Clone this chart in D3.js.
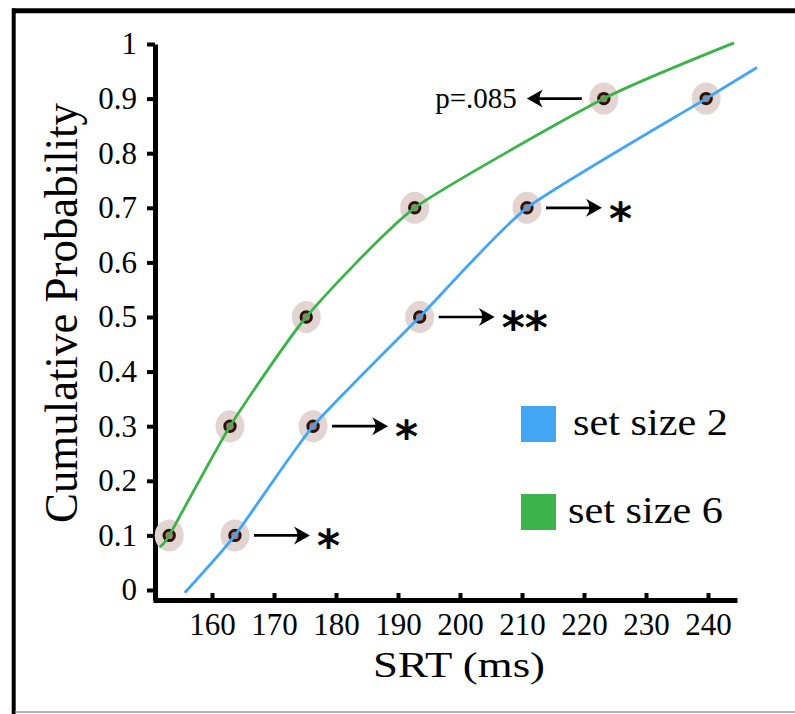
<!DOCTYPE html>
<html>
<head>
<meta charset="utf-8">
<script src="https://cdn.jsdelivr.net/npm/d3@7"></script>
<style>
  body { margin: 0; background: #fff; }
  text { font-family: "Liberation Serif", serif; fill: #000; }
</style>
</head>
<body>
<svg id="canvas" width="795" height="714"></svg>
<script>
// quantiles of the SRT distribution
let probs = [0.1, 0.3, 0.5, 0.7, 0.9];
let srtSize2 = [163.7, 176.3, 193.5, 210.8, 239.7];
let srtSize6 = [153.1, 162.9, 175.2, 192.7, 223.2];
// where each drawn curve starts and stops, [srt, prob]
let curveEnds2 = [[155.6, -0.005], [247.9, 0.957]];
let curveEnds6 = [[151.5, 0.079], [244.2, 1.002]];

let xTicks = [160, 170, 180, 190, 200, 210, 220, 230, 240];
let yTicks = [0, 0.1, 0.2, 0.3, 0.4, 0.5, 0.6, 0.7, 0.8, 0.9, 1];
let yTickLabels = ['0', '0.1', '0.2', '0.3', '0.4', '0.5', '0.6', '0.7', '0.8', '0.9', '1'];

let starLabels = ['*', '*', '**', '*', ''];
let pLabel = 'p=.085';
let seriesNames = ['set size 2', 'set size 6'];
let seriesColors = ['#42a6f4', '#3bb34a'];

let canvas = d3.select('#canvas');

let x = d3.scaleLinear().domain([160, 240]).range([212, 708]);
let y = d3.scaleLinear().domain([0, 1]).range([590, 44]);

// frame
canvas.append('line').attr('x1', 12).attr('x2', 795).attr('y1', 10.8).attr('y2', 10.8)
  .attr('stroke', '#000').attr('stroke-width', 5);
canvas.append('line').attr('x1', 13.7).attr('x2', 13.7).attr('y1', 8.5).attr('y2', 714)
  .attr('stroke', '#000').attr('stroke-width', 4);
canvas.append('line').attr('x1', 15).attr('x2', 795).attr('y1', 712).attr('y2', 712)
  .attr('stroke', '#9a9a9a').attr('stroke-width', 1.5);

let defs = canvas.append('defs');
defs.append('filter').attr('id', 'soft')
  .append('feGaussianBlur').attr('stdDeviation', 0.6);

// axes
let xAxisScale = x.copy().domain([x.invert(153), x.invert(737)]).range([153, 737]);
let yAxisScale = y.copy().domain([y.invert(600), 1]).range([600, 44]);

let xAxis = canvas.append('g')
  .attr('transform', 'translate(0,600)')
  .call(d3.axisBottom(xAxisScale).tickValues(xTicks).tickSizeInner(-7).tickSizeOuter(0).tickPadding(13));

let yAxis = canvas.append('g')
  .attr('transform', 'translate(155,0)')
  .call(d3.axisLeft(yAxisScale).tickValues(yTicks).tickSizeInner(8).tickSizeOuter(0).tickPadding(10)
    .tickFormat((d, i) => yTickLabels[i]));

[xAxis, yAxis].forEach(ax => {
  ax.attr('font-family', null).attr('font-size', null);
  ax.select('.domain').attr('stroke', '#000').attr('stroke-width', 5);
  ax.selectAll('.tick line').attr('stroke', '#000').attr('stroke-width', 4);
  ax.selectAll('.tick text').style('font-size', '31px').attr('fill', '#000');
});

// axis titles
canvas.append('text')
  .attr('x', 373).attr('y', 677)
  .attr('textLength', 172).attr('lengthAdjust', 'spacingAndGlyphs')
  .style('font-size', '36px')
  .text('SRT (ms)');

canvas.append('text')
  .attr('transform', 'translate(77,523) rotate(-90)')
  .attr('textLength', 420).attr('lengthAdjust', 'spacingAndGlyphs')
  .style('font-size', '47px')
  .text('Cumulative Probability');

// curves
let series = [
  { srt: srtSize2, ends: curveEnds2, color: seriesColors[0] },
  { srt: srtSize6, ends: curveEnds6, color: seriesColors[1] }
];

let line = d3.line()
  .x(d => x(d[0]))
  .y(d => y(d[1]))
  .curve(d3.curveCardinal.tension(0.45));

// markers under the curves
series.forEach(s => {
  canvas.append('g').selectAll('ellipse')
    .data(probs)
    .enter()
    .append('ellipse')
    .attr('cx', (p, i) => x(s.srt[i]))
    .attr('cy', p => y(p))
    .attr('rx', 14.5)
    .attr('ry', 16)
    .attr('fill', '#e2d5d1')
    .attr('filter', 'url(#soft)');

  canvas.append('g').selectAll('circle')
    .data(probs)
    .enter()
    .append('circle')
    .attr('cx', (p, i) => x(s.srt[i]))
    .attr('cy', p => y(p))
    .attr('r', 5.2)
    .attr('fill', '#b07c73')
    .attr('stroke', '#2a120e')
    .attr('stroke-width', 3);
});

series.forEach(s => {
  let pts = [s.ends[0]].concat(probs.map((p, i) => [s.srt[i], p]), [s.ends[1]]);
  canvas.append('path')
    .datum(pts)
    .attr('d', line)
    .attr('fill', 'none')
    .attr('stroke', s.color)
    .attr('stroke-width', 2.8);
});

// arrows
let drawArrow = (x0, x1, yy) => {
  let dir = x1 > x0 ? 1 : -1;
  canvas.append('line')
    .attr('x1', x0).attr('x2', x1 - dir * 8).attr('y1', yy).attr('y2', yy)
    .attr('stroke', '#000').attr('stroke-width', 2.7);
  canvas.append('path')
    .attr('d', 'M' + x1 + ',' + yy +
      'L' + (x1 - dir * 16) + ',' + (yy - 9) +
      'Q' + (x1 - dir * 9) + ',' + yy + ' ' + (x1 - dir * 16) + ',' + (yy + 9) + 'Z')
    .attr('fill', '#000');
};

probs.forEach((p, i) => {
  if (!starLabels[i]) return;
  let px = x(srtSize2[i]);
  let py = y(p);
  drawArrow(px + 19, px + 75, py);
  canvas.append('text')
    .attr('x', px + 82)
    .attr('y', py + 26)
    .style('font-family', '"DejaVu Sans", sans-serif')
    .style('font-weight', 'bold')
    .style('font-size', '44px')
    .text(starLabels[i]);
});

let pIdx = 4;
let gx = x(srtSize6[pIdx]);
let gy = y(probs[pIdx]);
drawArrow(gx - 22, gx - 77, gy);
canvas.append('text')
  .attr('x', gx - 87)
  .attr('y', gy + 9)
  .attr('text-anchor', 'end')
  .style('font-size', '29px')
  .text(pLabel);

// legend
let legend = canvas.append('g').selectAll('g')
  .data(seriesNames)
  .enter()
  .append('g')
  .attr('transform', (d, i) => 'translate(521,' + (406 + i * 88) + ')');

legend.append('rect')
  .attr('width', 35)
  .attr('height', 36)
  .attr('fill', (d, i) => seriesColors[i]);

legend.append('text')
  .attr('x', (d, i) => i === 0 ? 52 : 47)
  .attr('y', 29)
  .attr('textLength', 155)
  .attr('lengthAdjust', 'spacingAndGlyphs')
  .style('font-size', '37px')
  .text(d => d);
</script>
</body>
</html>
